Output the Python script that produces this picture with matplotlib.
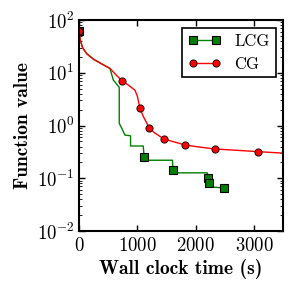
import matplotlib
matplotlib.use("Agg")
import matplotlib.pyplot as plt

# CG curve (time in s, function value)
cg_t = [0, 20, 60, 131, 250, 400, 530, 620, 735, 850, 957, 1000, 1043, 1100,
        1202, 1300, 1453, 1600, 1818, 2000, 2325, 2700, 3077, 3500]
cg_f = [63, 42, 30, 23, 18, 14.5, 12.1, 9.5, 7.06, 5.8, 4.7, 3.6, 2.12, 1.5,
        0.91, 0.72, 0.56, 0.50, 0.43, 0.40, 0.36, 0.34, 0.32, 0.30]
cg_marks = [0, 8, 12, 14, 16, 18, 20, 22]

# LCG curve (stepwise after the first drop)
lcg_t = [0, 20, 60, 131, 250, 400, 530, 587, 689, 689, 730, 786, 883, 883,
         1100, 1117, 1117, 1601, 1613, 1613, 2199, 2211, 2222, 2300, 2484]
lcg_f = [63, 42, 30, 23, 18, 14.5, 12.1, 7.3, 5.3, 1.1, 0.9, 0.66, 0.64, 0.41,
         0.41, 0.25, 0.22, 0.22, 0.142, 0.127, 0.127, 0.102, 0.082, 0.068, 0.066]
lcg_marks = [0, 15, 18, 21, 22, 24]

plt.rcParams['font.family'] = 'serif'
plt.rcParams['font.serif'] = ['cmr10']
plt.rcParams['mathtext.fontset'] = 'cm'
plt.rcParams['axes.formatter.use_mathtext'] = True
plt.rcParams['axes.unicode_minus'] = False

fig = plt.figure(figsize=(2.94, 2.91), dpi=100)
ax = fig.add_axes([0.269, 0.206, 0.694, 0.725])

ax.plot(lcg_t, lcg_f, color='green', lw=1.0, marker='s', markersize=5.5,
        markerfacecolor='green', markeredgecolor='black', markeredgewidth=0.8,
        markevery=lcg_marks, label='LCG')
ax.plot(cg_t, cg_f, color='red', lw=1.0, marker='o', markersize=5.2,
        markerfacecolor='red', markeredgecolor='black', markeredgewidth=0.6,
        markevery=cg_marks, label='CG')

ax.set_yscale('log')
ax.set_ylim(1e-2, 1e2)
ax.set_xlim(0, 3500)
ax.set_xticks([0, 1000, 2000, 3000])

ax.tick_params(which='both', direction='in', top=True, right=True, labelsize=13.5)
ax.tick_params(which='major', length=4, width=1)
ax.tick_params(which='minor', length=2, width=0.6)
ax.tick_params(axis='x', pad=4)
for s in ax.spines.values():
    s.set_linewidth(1.5)

ax.set_xlabel('Wall clock time (s)', fontfamily='cmb10', fontsize=14, labelpad=3)
ax.set_ylabel('Function value', fontfamily='cmb10', fontsize=14, labelpad=3)

leg = ax.legend(loc='upper right', numpoints=2, fancybox=False, fontsize=12,
                edgecolor='black', framealpha=1, handlelength=2.0,
                borderpad=0.35, labelspacing=0.45, borderaxespad=0.45)
leg.get_frame().set_linewidth(1.2)

fig.savefig('out.png', dpi=100)
